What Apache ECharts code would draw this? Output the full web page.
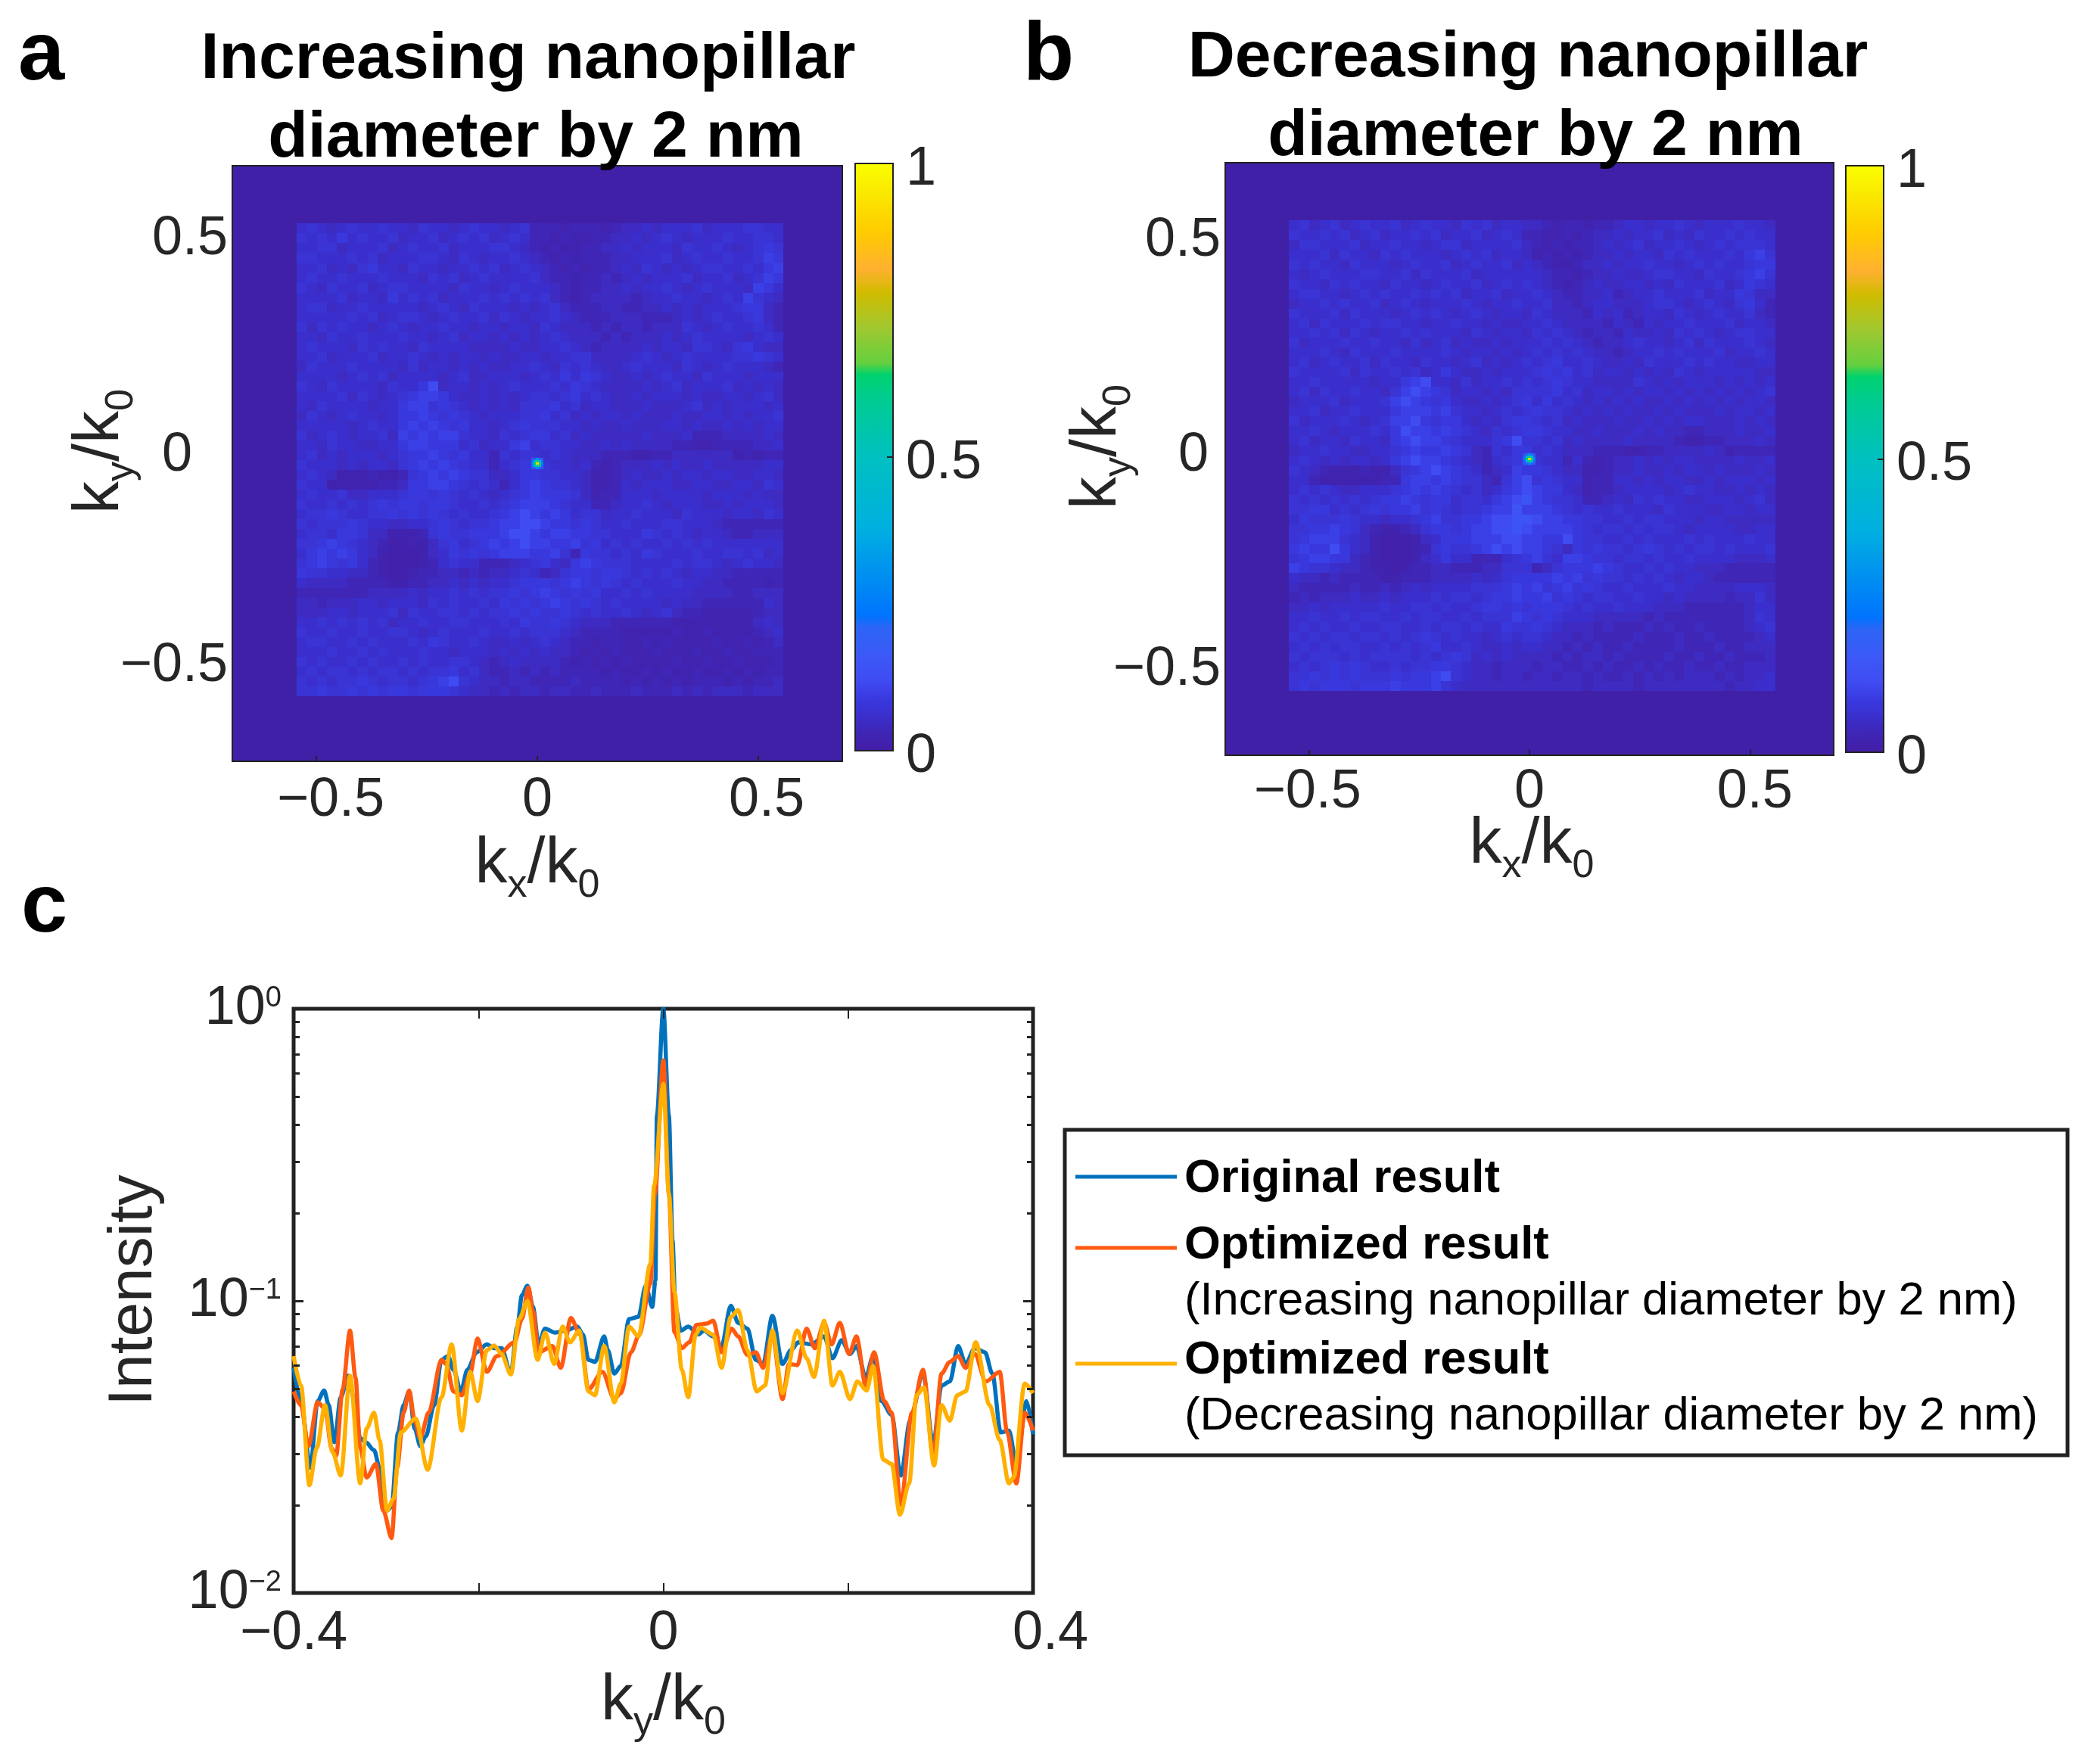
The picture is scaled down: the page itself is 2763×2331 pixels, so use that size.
<!DOCTYPE html>
<html>
<head>
<meta charset="utf-8">
<style>html,body{margin:0;padding:0;background:#fff}#c{width:2763px;height:2331px}</style>
<script src="https://cdn.jsdelivr.net/npm/echarts@6/dist/echarts.min.js"></script>
</head>
<body>
<div id="c"></div>
<script>
// ---------- panel titles and text
const titleLines = [["Increasing nanopillar",693,22],["diameter by 2 nm",703,126],["Decreasing nanopillar",2014,20],["diameter by 2 nm",2024,124]];
const legendNames = ["Original result", "Optimized result", "(Increasing nanopillar diameter by 2 nm)", "Optimized result", "(Decreasing nanopillar diameter by 2 nm)"];
const heatTicks = [-0.5,0,0.5];

// ---------- colour bar stops (value, colour)
const colorStops = [[0,"#431EA6"],[0.03,"#3F25B4"],[0.06,"#3A2FCC"],[0.09,"#393AE0"],[0.12,"#3F4CF2"],[0.16,"#3C58F6"],[0.215,"#2B66F5"],[0.225,"#0072FF"],[0.3,"#0090F0"],[0.38,"#00B0E0"],[0.5,"#00C0C0"],[0.6,"#00CC90"],[0.645,"#00D26A"],[0.655,"#60D040"],[0.72,"#A0C830"],[0.78,"#D0BC00"],[0.82,"#FFB030"],[0.885,"#FFCC00"],[0.95,"#FAE800"],[1,"#FAFF00"]];

// ---------- intensity, one digit per cell, top row first
const heatLevels = [0.012,0.02,0.032,0.047,0.06,0.072,0.085,0.10,0.12,0.145];
const heatA = [
"45434544 54435443 45443452 22122212 33434445 34445544",
"54546454 45344534 54534542 21211223 34345434 44544554",
"44553444 53454453 44455432 12112233 43444354 45434565",
"55444545 34445543 54344543 21212223 34445345 44544576",
"44534356 44354434 45453454 32121223 43543434 55445467",
"45445444 54443545 34544445 32212232 34344453 44534576",
"54354453 45544443 54434544 43212233 43445434 54443764",
"44445344 36454534 44545454 53212333 32344544 34547543",
"45534454 44443454 35444343 45322233 22334343 44456632",
"44444545 34554345 44535434 45432223 33222343 45445632",
"53545443 45434454 43443443 54333232 33233354 34544542",
"44354454 44544345 34434343 45433323 23334345 44443454",
"45444354 54435444 43333433 44543233 33434435 54356433",
"44534445 34454343 44343344 34455333 34543454 44455654",
"35444544 44353443 43433445 43545433 45444354 34544432",
"44443454 53444434 53344434 54646543 34345443 54443444",
"54354444 35446834 43434544 45465433 33434534 44534343",
"44445354 34567764 33434345 54564543 34344434 33443453",
"43544443 44677565 43434355 56453443 33433345 34344434",
"35434544 34667656 54344455 64534344 34333433 44343445",
"44444345 44676765 64434565 55443433 43334434 33434344",
"53454344 53767677 54435456 64534333 33433342 22333343",
"44354433 44677666 45344674 55443343 43333221 12222334",
"45343444 34566765 64425455 45433322 21122333 33312122",
"54443434 43567676 54424566 54434212 33343433 43333344",
"45431112 11256767 65533466 55443112 34334344 34433443",
"54411111 22366776 54542467 65543112 43444334 43344354",
"45445334 44566565 45434567 66653122 44434444 34443433",
"54454545 65665665 44545677 76544223 44543444 33434443",
"45565445 56565654 54456787 67645534 45444354 44344354",
"54555654 43344565 45567788 76656544 54445544 43222222",
"45546653 31112565 56667887 67766554 44654543 44322333",
"55676543 20011356 45676787 76675645 45445454 54444444",
"46767643 10001346 56567776 67526554 54654445 44554534",
"56765642 10001245 44222345 64367655 54444545 54345443",
"65544332 10012233 23233454 23566566 54545434 43322222",
"43333222 21122334 34344566 65676565 45444544 33222212",
"22222223 33343445 45455656 76565644 54544443 33322333",
"33233344 34443545 44546565 67656545 44443433 22222243",
"33344344 45354455 45455656 55654544 54345322 11111233",
"44545454 53445445 54445465 56543332 22222111 11111343",
"54454454 45543454 44544545 55432222 11111211 21111234",
"45544545 44454654 45433434 54322122 11212111 12112123",
"44454454 54445443 44434343 43321212 11121112 11211222",
"54544545 44545445 54323433 33212121 21111211 21121112",
"45455454 55454556 45322323 23222212 11212112 11212122",
"54545565 45545678 54332332 22232222 12121212 22121223",
"55655656 56656665 43323233 23322322 23222323 23332333"
];
const heatB = [
"45345345 44534544 35453443 32122122 34434454 34445443",
"54454534 53445453 44534542 21121233 43445343 54454544",
"35544453 44544345 53444453 21212234 34534454 34545554",
"44453544 35454443 45453443 12121233 43443545 44454675",
"54544354 44345445 34544534 32112334 34454434 54544566",
"43454445 54453544 45344444 43221233 43345544 35445675",
"54435454 43544345 44534545 43212343 34434354 44534654",
"45544345 45445454 53445344 54322334 23445444 53446533",
"34454544 53454344 45434454 45332344 33345543 45435642",
"54445354 44345454 34543443 54333243 42344354 34544532",
"45354445 45544344 54434334 45433332 43243445 44453443",
"44545354 34454544 43543443 54543233 24334354 54345544",
"53444544 54435345 34334344 45454323 34544345 35444543",
"44454354 44544445 43443434 54545433 23445454 44534454",
"45345445 35443544 34534345 45644543 34354445 45443344",
"54444535 44545346 43343444 56564534 43434354 34444433",
"44544444 34467844 35344545 45654433 33543434 44343434",
"45354454 43578765 34434355 55645344 34344343 43434345",
"34445344 45787656 43343456 46454343 43433434 34343443",
"44534454 44677767 54434545 65543434 34334343 33434434",
"53444543 45778656 64343566 54534333 43343434 43334343",
"44543444 54687767 65435456 65443343 33434332 23334334",
"45344354 43678776 54445685 54534333 34333321 12233343",
"34454433 44567667 65325466 45433322 21122333 34312222",
"45434344 34678776 54324567 54424212 33434344 33334334",
"54321112 11356787 65423476 65433112 33433434 43433343",
"44211111 12267767 65532578 56544122 44343443 34344434",
"45454334 44567676 54534678 76643122 34444345 44334343",
"54545454 56676566 45546789 76554223 43545443 34443453",
"55664545 65667565 45567797 77654544 54443544 43344344",
"46555654 43445675 56678899 87766554 45455444 34433333",
"55667653 21123566 56778898 77776545 54545543 44443344",
"56777543 10001346 66777887 76686554 45454445 45444544",
"67668643 10001256 55678787 76536565 54565454 55454445",
"56776632 10001346 44222456 75477655 45545445 44443334",
"76554332 11012233 22233555 23566676 54454544 33322222",
"43323222 21122233 33434566 66767565 54545434 43222222",
"32222232 23234344 44555676 75675654 45444544 33334443",
"23233343 34344454 55456676 67565455 44544343 33323353",
"33434444 45445545 44566565 66654544 54443332 22222344",
"44544545 54454554 45455576 56544433 33323222 22222354",
"45454454 45544545 54544655 65433323 22232322 32222345",
"54545545 54545654 54434545 54332322 22322232 23222234",
"45454554 45454564 45433434 43323232 23222232 22322333",
"54555454 55554545 65343433 33232332 32222322 32232223",
"45456565 44545566 54332333 23322323 22323223 22322333",
"55656565 55656678 54332332 33233232 23232323 33232334",
"56566656 66766675 43333333 33333233 33233333 33323344"
];
const heatExtentX = [-0.545, 0.557];
const heatExtentY = [-0.54, 0.556];
// central peak, rows top to bottom
const peakValues = [
[0.14,0.22,0.28,0.22,0.14],
[0.22,0.45,0.62,0.45,0.22],
[0.28,0.62,0.90,0.62,0.28],
[0.22,0.45,0.62,0.45,0.22],
[0.14,0.22,0.28,0.22,0.14]
];

// ---------- line profiles: k_y/k_0 and log10(intensity), read at the turning points
const xOriginal = [-.400,-.392,-.382,-.374,-.367,-.362,-.356,-.349,-.341,-.334,-.328,-.322,-.313,-.307,-.299,-.294,-.287,-.281,-.275,-.269,-.263,-.257,-.248,-.240,-.233,-.227,-.219,-.212,-.202,-.191,-.183,-.175,-.165,-.158,-.153,-.147,-.141,-.135,-.128,-.117,-.106,-.093,-.087,-.081,-.074,-.064,-.060,-.053,-.046,-.037,-.027,-.019,-.012,-.0085,-.007,0,.006,.010,.013,.019,.027,.038,.044,.054,.063,.073,.081,.091,.100,.108,.118,.129,.138,.146,.160,.174,.183,.193,.202,.209,.219,.227,.236,.247,.257,.267,.281,.292,.301,.310,.319,.327,.337,.348,.356,.365,.374,.382,.393,.400];
const logOriginal = [-1.229,-1.343,-1.571,-1.343,-1.307,-1.357,-1.484,-1.330,-1.256,-1.343,-1.471,-1.484,-1.511,-1.571,-1.718,-1.705,-1.450,-1.357,-1.310,-1.437,-1.497,-1.464,-1.357,-1.202,-1.189,-1.236,-1.310,-1.236,-1.176,-1.149,-1.162,-1.162,-1.249,-1.088,-.981,-.948,-1.021,-1.149,-1.095,-1.109,-1.102,-1.088,-1.115,-1.202,-1.209,-1.122,-1.169,-1.249,-1.223,-1.062,-1.055,-.948,-1.021,-.93,-.365,0,-.365,-.794,-1.021,-1.102,-1.088,-1.115,-1.102,-1.122,-1.155,-1.017,-1.075,-1.095,-1.202,-1.216,-1.051,-1.216,-1.169,-1.142,-1.149,-1.122,-1.196,-1.135,-1.182,-1.155,-1.263,-1.189,-1.343,-1.390,-1.598,-1.410,-1.249,-1.491,-1.290,-1.276,-1.155,-1.216,-1.162,-1.176,-1.249,-1.450,-1.444,-1.558,-1.343,-1.457];
const xIncreasing = [-.400,-.392,-.384,-.374,-.366,-.359,-.354,-.347,-.339,-.333,-.328,-.321,-.311,-.303,-.294,-.288,-.281,-.275,-.269,-.263,-.254,-.240,-.235,-.227,-.218,-.209,-.201,-.191,-.180,-.161,-.153,-.146,-.141,-.135,-.120,-.111,-.100,-.090,-.081,-.066,-.053,-.046,-.035,-.026,-.014,-.009,0,.006,.012,.020,.028,.036,.047,.054,.063,.074,.081,.091,.100,.108,.118,.129,.136,.145,.155,.164,.174,.182,.191,.201,.209,.219,.228,.239,.247,.257,.269,.281,.292,.301,.310,.319,.327,.337,.349,.364,.372,.382,.391,.400];
const logIncreasing = [-1.310,-1.357,-1.497,-1.347,-1.370,-1.504,-1.531,-1.303,-1.102,-1.263,-1.504,-1.605,-1.558,-1.718,-1.812,-1.571,-1.383,-1.307,-1.410,-1.471,-1.383,-1.202,-1.216,-1.310,-1.323,-1.249,-1.129,-1.243,-1.189,-1.142,-1.062,-.954,-1.035,-1.176,-1.155,-1.229,-1.059,-1.115,-1.303,-1.243,-1.336,-1.316,-1.176,-1.115,-.941,-.633,-.177,-.633,-1.107,-1.162,-1.142,-1.082,-1.078,-1.068,-1.176,-1.095,-1.122,-1.185,-1.176,-1.229,-1.115,-1.336,-1.216,-1.220,-1.095,-1.162,-1.075,-1.149,-1.075,-1.182,-1.122,-1.290,-1.176,-1.343,-1.383,-1.698,-1.383,-1.236,-1.531,-1.249,-1.209,-1.189,-1.229,-1.182,-1.276,-1.243,-1.450,-1.625,-1.383,-1.444];
const xDecreasing = [-.400,-.392,-.383,-.375,-.366,-.358,-.349,-.339,-.328,-.321,-.313,-.307,-.299,-.292,-.284,-.268,-.255,-.240,-.229,-.218,-.209,-.201,-.191,-.183,-.175,-.165,-.156,-.147,-.136,-.128,-.118,-.109,-.101,-.091,-.081,-.074,-.064,-.053,-.046,-.037,-.027,-.014,-.010,0,.006,.012,.020,.027,.035,.040,.054,.063,.073,.081,.091,.101,.110,.118,.129,.145,.155,.163,.174,.183,.191,.202,.210,.220,.227,.238,.247,.256,.266,.274,.282,.293,.301,.310,.318,.327,.338,.353,.364,.374,.379,.391,.400];
const logDecreasing = [-1.189,-1.290,-1.631,-1.504,-1.357,-1.517,-1.598,-1.256,-1.625,-1.437,-1.383,-1.477,-1.718,-1.678,-1.450,-1.403,-1.578,-1.330,-1.149,-1.444,-1.243,-1.343,-1.169,-1.153,-1.182,-1.252,-1.062,-1.001,-1.202,-1.109,-1.216,-1.088,-1.142,-1.102,-1.310,-1.323,-1.155,-1.347,-1.283,-1.088,-1.122,-.874,-.606,-.257,-.633,-.968,-1.236,-1.330,-1.115,-1.092,-1.115,-1.229,-1.055,-1.031,-1.169,-1.310,-1.290,-1.102,-1.316,-1.102,-1.196,-1.260,-1.068,-1.290,-1.243,-1.336,-1.276,-1.307,-1.223,-1.544,-1.558,-1.732,-1.625,-1.323,-1.296,-1.564,-1.357,-1.410,-1.323,-1.310,-1.142,-1.357,-1.477,-1.625,-1.605,-1.283,-1.316];

// ---------- helpers
function hexRgb(h){return [1,3,5].map(i=>parseInt(h.substr(i,2),16));}
function buildColormap(){
  const out=[];
  for(let i=0;i<=200;i++){
    const t=i/200; let k=0;
    while(k<colorStops.length-2&&t>colorStops[k+1][0])k++;
    const a=colorStops[k],b=colorStops[k+1],f=(t-a[0])/(b[0]-a[0]);
    const ca=hexRgb(a[1]),cb=hexRgb(b[1]);
    out.push('rgb('+ca.map((c,j)=>Math.round(c+(cb[j]-c)*f)).join(',')+')');
  }
  return out;
}
const colormap=buildColormap();
function heatCells(rows){
  const clean=rows.map(r=>r.replace(/ /g,''));
  const n=clean.length,dx=(heatExtentX[1]-heatExtentX[0])/n,dy=(heatExtentY[1]-heatExtentY[0])/n,out=[];
  clean.forEach((r,i)=>{for(let j=0;j<r.length;j++){
    out.push([heatExtentX[0]+j*dx, heatExtentY[1]-i*dy, heatLevels[+r[j]], dx, dy]);
  }});
  return out;
}
function peakCells(){
  const d=0.0055,out=[];
  peakValues.forEach((r,i)=>r.forEach((v,j)=>out.push([(j-2.5)*d,-(i-2.5)*d,v,d,d])));
  return out;
}
function renderCell(params,api){
  const a=api.coord([api.value(0),api.value(1)]);
  const b=api.coord([api.value(0)+api.value(3),api.value(1)-api.value(4)]);
  const x=Math.round(a[0]),y=Math.round(a[1]);
  return {type:'rect',shape:{x:x,y:y,width:Math.max(1,Math.round(b[0])-x),height:Math.max(1,Math.round(b[1])-y)},style:{fill:api.visual('color')}};
}
const ink='#262626';
const tickFont={fontFamily:'Liberation Sans',fontSize:72,color:ink};
const subName={k:{fontFamily:'Liberation Sans',fontSize:86,color:ink},s:{fontFamily:'Liberation Sans',fontSize:52,color:ink,padding:[58,0,0,0]}};
function labelRich(pads){const r={};Object.keys(pads).forEach(k=>{r[k]=Object.assign({},tickFont,{padding:pads[k]});});return r;}
function pick(){return function(v){const k=v<-0.01?'n':v>0.01?'p':'z';const t=v<-0.01?'\u2212'+Math.abs(v):String(v);return '{'+k+'|'+t+'}';};}

function heatGrid(g){ return {left:g.l,top:g.t,width:g.w,height:g.h,show:true,backgroundColor:'#4120A8',borderColor:'#222',borderWidth:2,z:0}; }
function heatX(gi,rich,nameShift,gap,margin){ return {type:'value',gridIndex:gi,min:-0.69,max:0.69,
  axisLine:{show:false,onZero:false},axisTick:{show:true,inside:true,length:7,customValues:heatTicks,lineStyle:{color:'#222',width:2}},splitLine:{show:false},
  axisLabel:{margin:margin,customValues:heatTicks,formatter:pick(),rich:rich},
  name:'{k|k}{s|x}{k|/k}{s|0}',nameLocation:'middle',nameGap:gap,nameMoveOverlap:false,nameTextStyle:{rich:subName,padding:[0,0,0,nameShift]},z:5}; }
function heatY(gi,rich,nameGap){ return {type:'value',gridIndex:gi,min:-0.69,max:0.69,
  axisLine:{show:false,onZero:false},axisTick:{show:false},splitLine:{show:false},
  axisLabel:{margin:6,customValues:heatTicks,formatter:pick(),rich:rich},
  name:'{k|k}{s|y}{k|/k}{s|0}',nameLocation:'middle',nameGap:nameGap,nameMoveOverlap:false,nameRotate:90,nameTextStyle:{rich:subName,padding:[0,0,0,32]},z:5}; }

const G={a:{l:307,t:219,w:806,h:787},b:{l:1619,t:215,w:804,h:783},
  ca:{l:1130,t:216,w:50,h:776},cb:{l:2439,t:219,w:50,h:775},c:{l:388,t:1333,w:977,h:772}};

function cbGrid(g){return {left:g.l,top:g.t,width:g.w,height:g.h,show:true,backgroundColor:'transparent',borderColor:'#222',borderWidth:2,z:10};}
function cbAxes(gi){return {
  x:{type:'value',gridIndex:gi,min:0,max:1,show:false},
  y:{type:'value',gridIndex:gi,min:0,max:1,interval:0.5,position:'right',z:11,
     axisLine:{show:false,onZero:false},splitLine:{show:false},
     axisTick:{show:true,inside:true,length:8,lineStyle:{color:'#222',width:2}},
     axisLabel:{margin:17,formatter:function(v){return '{v|'+v+'}';},rich:labelRich({v:[16,0,0,0]})}}};}
const cba=cbAxes(2),cbb=cbAxes(3);

const majorY=[0.01,0.1,1];
const minorY=[0.02,0.03,0.04,0.05,0.06,0.07,0.08,0.09,0.2,0.3,0.4,0.5,0.6,0.7,0.8,0.9];
function logAxis(pos,major,withLabels){
  return {type:'log',logBase:10,gridIndex:4,min:0.01,max:1,position:pos,z:6,
    axisLine:{show:false,onZero:false},splitLine:{show:false},minorTick:{show:false},
    axisTick:{show:true,inside:true,length:major?13:8,customValues:major?majorY:minorY,lineStyle:{color:'#222',width:3}},
    axisLabel:withLabels?{show:true,margin:16,
      formatter:function(v){const e=Math.round(Math.log10(v));return '{b|10}{e|'+(e===0?'0':'\u2212'+(-e))+'}';},
      rich:{b:Object.assign({},tickFont),e:{fontFamily:'Liberation Sans',fontSize:38,color:ink,padding:[0,0,26,0]}}}:{show:false},
    name:withLabels?'Intensity':'',nameLocation:'middle',nameGap:170,nameMoveOverlap:false,nameRotate:90,
    nameTextStyle:{fontFamily:'Liberation Sans',fontSize:82,color:ink,padding:[0,0,0,28]}};
}
function lineSeries(name,xs,logs,color){
  return {type:'line',name:name,xAxisIndex:4,yAxisIndex:4,data:xs.map((x,i)=>[x,Math.pow(10,logs[i])]),
    symbol:'none',smooth:0.3,smoothMonotone:'x',lineStyle:{color:color,width:5.5},z:4,clip:true,animation:false};
}
function legendText(base,i,bold){return {type:'text',z:20,style:{x:1565,y:base-17,text:legendNames[i],fontFamily:'Liberation Sans',fontSize:61.5,fontWeight:bold?'bold':'normal',fill:'#000',verticalAlign:'middle'}};}
function legendLine(y,c){return {type:'line',z:20,shape:{x1:1421,y1:y,x2:1555,y2:y},style:{stroke:c,lineWidth:5}};}
function letter(t,x,base){return {type:'text',z:20,style:{x:x,y:base-33,text:t,fontFamily:'Liberation Sans',fontSize:110,fontWeight:'bold',fill:'#000',verticalAlign:'middle'}};}

const option={
  animation:false,
  title:titleLines.map(t=>({text:t[0],left:t[1],top:t[2],textAlign:'center',z:0,textStyle:{fontFamily:'Liberation Sans',fontSize:86,fontWeight:'bold',color:'#000',lineHeight:104}})),
  grid:[heatGrid(G.a),heatGrid(G.b),cbGrid(G.ca),cbGrid(G.cb),
    {left:G.c.l,top:G.c.t,width:G.c.w,height:G.c.h,show:true,backgroundColor:'#fff',borderColor:'#222',borderWidth:5,z:1}],
  xAxis:[
    heatX(0,labelRich({n:[0,0,0,38],z:[0,0,0,0],p:[0,0,0,22]}),0,81,16),
    heatX(1,labelRich({n:[0,4,0,0],z:[0,0,0,0],p:[0,0,0,13]}),6,63,13),
    cba.x,cbb.x,
    {type:'value',gridIndex:4,min:-0.4,max:0.4,interval:0.2,z:6,
      axisLine:{show:false,onZero:false},splitLine:{show:false},
      axisTick:{show:true,inside:true,length:13,lineStyle:{color:'#222',width:2}},
      axisLabel:{margin:18,formatter:function(v){if(Math.abs(Math.abs(v)-0.2)<1e-6)return '';if(v<-0.01)return '{n|\u2212'+Math.abs(v)+'}';if(v>0.01)return '{p|'+v+'}';return '{n|0}';},rich:labelRich({n:[0,0,0,0],p:[0,0,0,46]})},
      name:'{k|k}{s|y}{k|/k}{s|0}',nameLocation:'middle',nameGap:88,nameMoveOverlap:false,nameTextStyle:{rich:subName}},
    {type:'value',gridIndex:4,min:-0.4,max:0.4,interval:0.2,position:'top',z:6,
      axisLine:{show:false,onZero:false},splitLine:{show:false},axisLabel:{show:false},
      axisTick:{show:true,inside:true,length:13,lineStyle:{color:'#222',width:2}}}
  ],
  yAxis:[
    heatY(0,labelRich({p:[0,0,22,0],z:[0,47,20,0],n:[0,0,36,0]}),120),
    heatY(1,labelRich({p:[0,0,10,0],z:[0,16,8,0],n:[0,0,10,0]}),114),
    cba.y,cbb.y,
    logAxis('left',true,true),logAxis('left',false,false),logAxis('right',true,false),logAxis('right',false,false)
  ],
  visualMap:[
    {type:'continuous',seriesIndex:0,dimension:2,min:0,max:1,left:G.ca.l,top:G.ca.t,itemWidth:G.ca.w,itemHeight:G.ca.h,padding:0,calculable:false,hoverLink:false,text:null,inRange:{color:colormap}},
    {type:'continuous',seriesIndex:1,dimension:2,min:0,max:1,left:G.cb.l,top:G.cb.t,itemWidth:G.cb.w,itemHeight:G.cb.h,padding:0,calculable:false,hoverLink:false,text:null,inRange:{color:colormap}}
  ],
  series:[
    {type:'custom',name:'map a',xAxisIndex:0,yAxisIndex:0,renderItem:renderCell,data:heatCells(heatA).concat(peakCells()),encode:{x:0,y:1},animation:false,z:2,silent:true},
    {type:'custom',name:'map b',xAxisIndex:1,yAxisIndex:1,renderItem:renderCell,data:heatCells(heatB).concat(peakCells()),encode:{x:0,y:1},animation:false,z:2,silent:true},
    lineSeries('Original result',xOriginal,logOriginal,'#0072BD'),
    lineSeries('Optimized result (Increasing)',xIncreasing,logIncreasing,'#FF5A10'),
    lineSeries('Optimized result (Decreasing)',xDecreasing,logDecreasing,'#FFB000')
  ],
  graphic:[
    letter('a',24,108),letter('b',1352,108),letter('c',28,1234),
    {type:'rect',z:19,shape:{x:1407,y:1493,width:1325,height:430},style:{fill:'#fff',stroke:'#222',lineWidth:5}},
    legendLine(1555,'#0072BD'),legendLine(1649,'#FF5A10'),legendLine(1802,'#FFB000'),
    legendText(1575,0,true),legendText(1663,1,true),legendText(1737,2,false),legendText(1815,3,true),legendText(1889,4,false)
  ]
};
const chart=echarts.init(document.getElementById('c'),null,{renderer:'canvas',width:2763,height:2331});
chart.setOption(option);
</script>
</body>
</html>
